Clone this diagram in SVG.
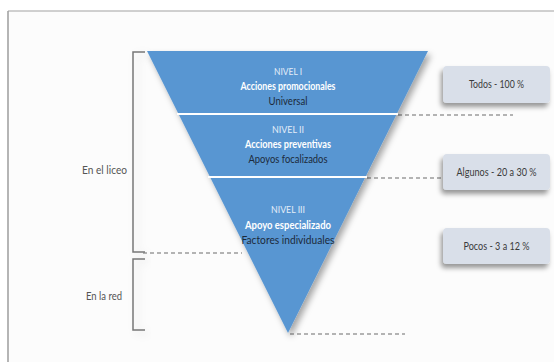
<svg xmlns="http://www.w3.org/2000/svg" width="554" height="362" viewBox="0 0 554 362">
<defs>
<style>
.t{font-family:Lato,"Open Sans","Liberation Sans",sans-serif;text-anchor:middle}
.lvl{font-size:9px;fill:#e3edf8}
.b{font-size:10.5px;font-weight:bold;fill:#ffffff}
.d{font-size:10.5px;fill:#1c2a3a}
.side{font-size:11px;fill:#555}
.box{fill:#d9dfe9}
.bt{font-size:11px;fill:#3a3a3a}
.dash{stroke:#9a9a9a;stroke-width:1.5;stroke-dasharray:4 3;fill:none}
.br{stroke:#777;stroke-width:1.5;fill:none}
</style>
<filter id="sh" x="-20%" y="-20%" width="150%" height="150%">
<feDropShadow dx="3" dy="4" stdDeviation="3" flood-color="#000" flood-opacity="0.35"/>
</filter>
<filter id="sh2" x="-30%" y="-30%" width="160%" height="180%">
<feDropShadow dx="-2" dy="4" stdDeviation="2.5" flood-color="#000" flood-opacity="0.4"/>
</filter>
<filter id="sh3" x="-50%" y="-20%" width="200%" height="150%">
<feDropShadow dx="4" dy="3" stdDeviation="4" flood-color="#000" flood-opacity="0.12"/>
</filter>
</defs>
<rect width="554" height="362" fill="#ffffff"/>
<g id="frame">
<rect x="9" y="12" width="560" height="360" fill="#fcfcfc"/>
<line x1="8" y1="11" x2="8" y2="362" stroke="#b5b5b5" stroke-width="2"/>
<line x1="8" y1="11" x2="554" y2="11" stroke="#a0a0a0" stroke-width="1"/>
</g>
<g id="connectors">
<line class="dash" x1="398" y1="115" x2="513" y2="115"/>
<line class="dash" x1="367" y1="178" x2="483" y2="178"/>
<line class="dash" x1="143" y1="253" x2="242" y2="253"/>
<line class="dash" x1="290" y1="334" x2="405" y2="334"/>
</g>
<g id="brackets">
<path class="br" d="M145,52 H133 V252 H145" filter="url(#sh3)"/>
<path class="br" d="M145,259 H133 V330 H145" filter="url(#sh3)"/>
<text class="t side" x="104.5" y="174" textLength="45" lengthAdjust="spacingAndGlyphs">En el liceo</text>
<text class="t side" x="104" y="300" textLength="36" lengthAdjust="spacingAndGlyphs">En la red</text>
</g>
<g id="pyramid">
<path d="M147,51 L428,51 L288,333 Z" fill="#5896d2" filter="url(#sh)"/>
<line x1="177" y1="114" x2="398" y2="114" stroke="#ffffff" stroke-width="2"/>
<line x1="208" y1="177" x2="367" y2="177" stroke="#ffffff" stroke-width="2"/>
</g>
<g id="nivel1">
<text class="t lvl" x="288" y="75" textLength="28" lengthAdjust="spacingAndGlyphs">NIVEL I</text>
<text class="t b" x="288" y="90" textLength="95" lengthAdjust="spacingAndGlyphs">Acciones promocionales</text>
<text class="t d" x="288" y="105" textLength="39" lengthAdjust="spacingAndGlyphs">Universal</text>
</g>
<g id="nivel2">
<text class="t lvl" x="288" y="133" textLength="32" lengthAdjust="spacingAndGlyphs">NIVEL II</text>
<text class="t b" x="288" y="148" textLength="86" lengthAdjust="spacingAndGlyphs">Acciones preventivas</text>
<text class="t d" x="288" y="163" textLength="79" lengthAdjust="spacingAndGlyphs">Apoyos focalizados</text>
</g>
<g id="nivel3">
<text class="t lvl" x="288" y="213" textLength="34" lengthAdjust="spacingAndGlyphs">NIVEL III</text>
<text class="t b" x="288" y="229" textLength="86" lengthAdjust="spacingAndGlyphs">Apoyo especializado</text>
<text class="t d" x="288" y="244" textLength="93" lengthAdjust="spacingAndGlyphs">Factores individuales</text>
</g>
<g id="box1">
<rect class="box" x="443" y="66" width="107" height="37" rx="4" filter="url(#sh2)"/>
<text class="t bt" x="496.5" y="88" textLength="55" lengthAdjust="spacingAndGlyphs">Todos - 100 %</text>
</g>
<g id="box2">
<rect class="box" x="443" y="154" width="107" height="36" rx="4" filter="url(#sh2)"/>
<text class="t bt" x="496.5" y="176" textLength="80" lengthAdjust="spacingAndGlyphs">Algunos - 20 a 30 %</text>
</g>
<g id="box3">
<rect class="box" x="443" y="228" width="107" height="36" rx="4" filter="url(#sh2)"/>
<text class="t bt" x="496.5" y="250" textLength="66" lengthAdjust="spacingAndGlyphs">Pocos - 3 a 12 %</text>
</g>
</svg>
